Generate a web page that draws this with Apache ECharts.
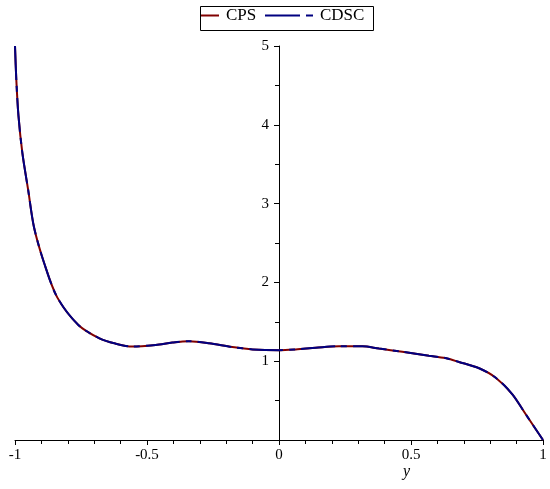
<!DOCTYPE html>
<html>
<head>
<meta charset="utf-8">
<script src="https://cdn.jsdelivr.net/npm/echarts@6/dist/echarts.min.js"></script>
<style>html,body{margin:0;padding:0;background:#fff}#c{width:550px;height:489px}</style>
</head>
<body>
<div id="c"></div>
<script>
const xs = [-1, -0.995, -0.987, -0.972, -0.95, -0.928, -0.89, -0.84, -0.76, -0.68, -0.62, -0.556, -0.467, -0.404, -0.341, -0.265, -0.177, -0.1, 0, 0.063, 0.139, 0.227, 0.316, 0.379, 0.467, 0.568, 0.63, 0.682, 0.758, 0.821, 0.884, 0.934, 0.972, 1];
const cps = [5.0, 4.57, 4.12, 3.64, 3.17, 2.70, 2.25, 1.81, 1.46, 1.29, 1.224, 1.186, 1.206, 1.236, 1.253, 1.228, 1.18, 1.15, 1.14, 1.15, 1.17, 1.19, 1.19, 1.16, 1.12, 1.07, 1.04, 0.99, 0.91, 0.79, 0.58, 0.33, 0.14, 0.0];
const cdsc = cps.slice();
const seriesNames = ['CPS', 'CDSC'];
const xName = 'y';

const chart = echarts.init(document.getElementById('c'), null, {renderer: 'canvas'});
const font = 'Liberation Serif';
const gridW = 550 - 15 - 7;
const legendText = {fontFamily: font, fontSize: 17, color: '#000', padding: [0, 0, 0, 2]};
chart.setOption({
  animation: false,
  backgroundColor: '#fff',
  grid: {left: 15, right: 7, top: 46, bottom: 49},
  legend: [{
    left: 201, top: 7, padding: 0,
    data: [{name: seriesNames[0], icon: 'rect'}],
    itemWidth: 18, itemHeight: 2,
    textStyle: legendText
  }, {
    left: 265, top: 7, padding: 0,
    data: [{name: seriesNames[1], icon: 'path://M0,0h35v2h-35z M41,0h7v2h-7z'}],
    itemWidth: 48, itemHeight: 2,
    textStyle: legendText
  }],
  xAxis: {
    type: 'value', min: -1, max: 1, interval: 0.5,
    axisLine: {onZero: false, lineStyle: {color: '#000', width: 1}},
    axisTick: {show: true, length: 5, lineStyle: {color: '#000'}},
    minorTick: {show: true, splitNumber: 5, length: 4, lineStyle: {color: '#000'}},
    splitLine: {show: false},
    axisLabel: {fontFamily: font, fontSize: 15, color: '#000', margin: 8,
      formatter: v => v < 0 ? '-' + String(-v) : String(v)}
  },
  yAxis: {
    type: 'value', min: 0, max: 5, interval: 1,
    offset: -gridW / 2,
    axisLine: {onZero: false, lineStyle: {color: '#000', width: 1}},
    axisTick: {show: true, length: 5, lineStyle: {color: '#000'}},
    minorTick: {show: true, splitNumber: 2, length: 4, lineStyle: {color: '#000'}},
    splitLine: {show: false},
    axisLabel: {fontFamily: font, fontSize: 15, color: '#000', margin: 10,
      formatter: v => v === 0 ? '' : String(v)}
  },
  graphic: [{
    type: 'rect', left: 198, top: 4, silent: true,
    shape: {width: 173, height: 24},
    style: {fill: 'none', stroke: '#000', lineWidth: 1}
  }, {
    type: 'text', left: 403, top: 464,
    style: {text: xName, font: 'italic 16px "Liberation Serif"', fill: '#000'}
  }],
  series: [{
    name: seriesNames[0], type: 'line',
    data: xs.map((x, i) => [x, cps[i]]),
    symbol: 'none', smooth: 0.3,
    lineStyle: {color: '#800000', width: 2}, itemStyle: {color: '#800000'}
  }, {
    name: seriesNames[1], type: 'line',
    data: xs.map((x, i) => [x, cdsc[i]]),
    symbol: 'none', smooth: 0.3,
    lineStyle: {color: '#000080', width: 2, type: [34, 6, 6, 6]}, itemStyle: {color: '#000080'}
  }]
});
</script>
</body>
</html>
